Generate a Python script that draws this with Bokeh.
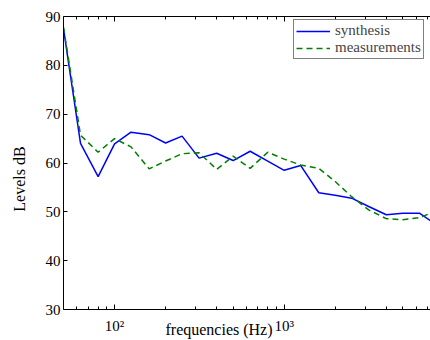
from bokeh.plotting import figure
from bokeh.models import (Range1d, LogAxis, FixedTicker, Legend, LegendItem,
                          ColumnDataSource)
from bokeh.embed import file_html
from bokeh.resources import INLINE

freqs = [50, 63, 80, 100, 125, 160, 200, 250, 315, 400, 500, 630, 800, 1000,
         1250, 1600, 2000, 2500, 3150, 4000, 5000, 6300, 8000]
synthesis = [87.5, 64.0, 57.2, 63.9, 66.3, 65.8, 64.1, 65.5, 61.0, 62.0, 60.5, 62.4,
             60.4, 58.5, 59.5, 53.9, 53.4, 52.8, 51.1, 49.4, 49.7, 49.7, 47.2]
measurements = [87.8, 65.7, 62.2, 65.0, 63.3, 58.8, 60.4, 61.9, 62.1, 58.7, 61.4, 58.9,
                62.2, 60.8, 59.6, 58.9, 56.2, 53.1, 50.4, 48.6, 48.4, 48.8, 50.3]
x_major = [100, 1000]
x_major_labels = {100: "10\u00b2", 1000: "10\u00b3"}
x_minor = [60, 70, 80, 90, 200, 300, 400, 500, 600, 700, 800, 900,
           2000, 3000, 4000, 5000, 6000, 7000]
y_ticks = [30, 40, 50, 60, 70, 80, 90]

FONT = "Liberation Serif"
NB = "\u00a0"

p = figure(width=430, height=340, x_axis_type="log", output_backend="svg",
           toolbar_location=None, x_range=Range1d(50, 7290), y_range=Range1d(30, 90),
           min_border_left=63, min_border_right=0, min_border_top=16, min_border_bottom=30)
p.outline_line_color = None
p.grid.visible = False
p.background_fill_color = "white"
p.border_fill_color = "white"

src = ColumnDataSource(dict(f=freqs, s=synthesis, m=measurements))
r1 = p.line("f", "s", source=src, line_color="#0000ff", line_width=1.5)
r2 = p.line("f", "m", source=src, line_color="#008000", line_width=1.5, line_dash="6 4")

xt = FixedTicker(ticks=x_major, minor_ticks=x_minor)
xa = p.xaxis[0]
xa.ticker = xt
xa.major_label_overrides = x_major_labels
xa.major_label_text_font = FONT
xa.major_label_text_font_size = "15px"
xa.major_label_text_color = "black"
xa.major_tick_in = 5
xa.major_tick_out = 0
xa.minor_tick_in = 3
xa.minor_tick_out = 0
xa.major_label_standoff = 8
xa.axis_line_color = "black"
xa.major_tick_line_color = "black"
xa.minor_tick_line_color = "black"
xa.axis_label = "frequencies (Hz)" + NB * 14
xa.axis_label_text_font = FONT
xa.axis_label_text_font_size = "16px"
xa.axis_label_text_font_style = "normal"
xa.axis_label_text_color = "black"
xa.axis_label_standoff = -16

ya = p.yaxis[0]
ya.ticker = FixedTicker(ticks=y_ticks)
ya.major_label_text_font = FONT
ya.major_label_text_font_size = "15px"
ya.major_label_text_color = "black"
ya.major_tick_in = 4
ya.major_tick_out = 0
ya.minor_tick_line_color = None
ya.major_label_standoff = 3
ya.axis_line_color = "black"
ya.axis_label = "Levels dB" + NB * 8
ya.axis_label_text_font = FONT
ya.axis_label_text_font_size = "16px"
ya.axis_label_text_font_style = "normal"
ya.axis_label_text_color = "black"
ya.axis_label_standoff = 15

top = LogAxis(ticker=FixedTicker(ticks=x_major, minor_ticks=x_minor))
top.major_label_overrides = {100: " ", 1000: " "}
top.major_label_text_font_size = "2px"
top.major_label_text_alpha = 0
top.major_label_standoff = 0
top.major_tick_in = 5
top.major_tick_out = 0
top.minor_tick_in = 3
top.minor_tick_out = 0
top.axis_line_color = "black"
p.add_layout(top, "above")

legend = Legend(items=[LegendItem(label="synthesis", renderers=[r1]),
                       LegendItem(label="measurements", renderers=[r2])],
                location=(230, 250))
legend.label_text_font = FONT
legend.label_text_font_size = "15px"
legend.glyph_width = 34
legend.glyph_height = 14
legend.label_height = 14
legend.spacing = -1
legend.padding = 2
legend.margin = 0
legend.label_standoff = 5
legend.border_line_color = "black"
legend.border_line_width = 1
legend.background_fill_alpha = 1
p.add_layout(legend)

open("out.html", "w").write(file_html(p, INLINE))
